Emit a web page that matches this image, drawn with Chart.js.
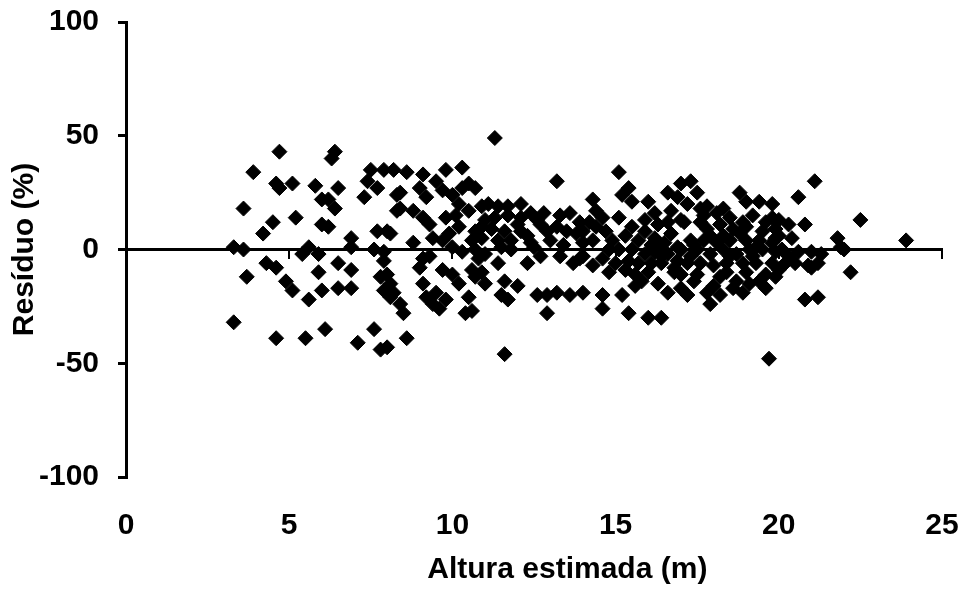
<!DOCTYPE html>
<html>
<head>
<meta charset="utf-8">
<script src="https://cdn.jsdelivr.net/npm/chart.js@4/dist/chart.umd.min.js"></script>
<style>
  html, body { margin: 0; padding: 0; background: #fff; }
  #wrap { width: 966px; height: 591px; position: relative; }
</style>
</head>
<body>
<div id="wrap"><canvas id="residuos"></canvas></div>
<script>
// residuals vs estimated height
var alturaEstimada = [
    4.7, 6.4, 6.3, 3.9, 4.6, 4.7, 5.1, 5.8, 6.5, 6.0, 6.2, 6.4, 7.3, 7.5, 7.9, 8.2, 7.4, 7.7, 8.3, 3.6,
    4.5, 4.2, 5.2, 6.0, 6.2, 6.9, 7.7, 8.0, 8.1, 8.3, 3.3, 3.6, 5.6, 5.4, 5.9, 6.9, 7.6, 7.9, 4.3, 4.6,
    5.9, 6.5, 6.9, 3.7, 4.9, 5.1, 5.6, 6.0, 6.5, 6.9, 7.8, 7.9, 8.1, 3.3, 4.6, 5.5, 6.1, 7.1, 7.6, 7.8,
    8.0, 7.9, 8.0, 8.1, 8.2,
    8.6, 9.1, 9.8, 10.3, 8.4, 9.0, 9.2, 9.7, 10.0, 10.3, 10.5, 10.7, 8.4, 8.8, 9.1, 9.3, 9.8, 10.1, 10.5, 8.8,
    9.4, 9.7, 9.9, 10.2, 10.6, 10.7, 10.0, 10.3, 10.7, 9.1, 9.3, 9.7, 9.0, 10.0, 10.2, 10.6, 10.7, 9.1, 9.2, 9.5,
    9.4, 9.8, 9.6, 8.4, 8.5, 10.5, 10.4, 10.6, 8.6, 10.2, 9.5, 10.8,
    11.3, 13.2, 10.9, 11.1, 11.4, 11.7, 12.4, 12.6, 13.3, 13.6, 11.0, 11.3, 11.7, 12.1, 12.3, 12.7, 12.9, 13.2, 13.5, 13.8,
    10.9, 11.4, 11.8, 12.1, 12.5, 11.0, 11.8, 12.7, 13.3, 13.7, 10.9, 11.0, 11.6, 12.0, 11.7, 11.5, 12.6, 12.9, 13.2, 13.6,
    12.9, 11.6, 11.2, 12.0, 11.5, 10.9, 11.6, 12.4, 11.4, 12.3, 13.0, 13.9, 13.9, 13.4, 12.8, 12.1,
    15.1, 15.4, 15.2, 15.5, 16.0, 14.3, 14.4, 14.6, 15.1, 16.6, 16.9, 15.9, 16.3, 14.0, 14.7, 14.3, 14.0, 14.9, 15.3, 15.7,
    16.2, 16.7, 16.5, 15.1, 15.5, 15.9, 16.2, 16.6, 15.4, 15.7, 16.1, 16.4, 16.9, 14.3, 15.3, 14.0, 14.6, 15.6, 14.0, 14.6,
    15.2, 14.6, 15.4, 16.0, 16.4, 16.6, 16.3, 15.6, 16.8, 15.9, 16.6, 16.0, 16.8, 16.4, 15.0, 14.8, 14.4, 16.9, 16.1,
    14.2, 14.8, 15.5, 16.2, 16.7, 15.8, 16.3,
    17.3, 17.0, 17.5, 18.8, 19.0, 19.4, 19.8, 17.2, 17.8, 18.1, 18.5, 19.2, 19.8, 17.0, 17.6, 17.1, 17.4, 17.8, 18.2, 18.6,
    19.0, 19.5, 19.9, 17.3, 17.7, 18.1, 18.5, 19.0, 19.4, 19.8, 17.0, 17.5, 17.9, 18.3, 18.7, 19.1, 19.5, 19.9, 17.2, 17.6,
    18.0, 18.4, 18.9, 19.3, 19.8, 17.0, 17.5, 18.2, 18.7, 19.1, 19.6, 17.0, 18.6, 17.9, 19.7,
    17.7, 18.3, 18.9, 19.6, 17.4, 18.0, 18.4, 19.0, 19.6, 17.9, 18.8, 19.3, 18.5, 17.3, 19.9, 17.6, 18.3, 19.2,
    17.2, 17.8, 18.2, 18.9, 19.4, 19.9,
    21.1, 20.6, 22.5, 20.0, 20.3, 20.8, 20.4, 21.8, 21.9, 20.1, 20.6, 21.0, 21.3, 20.2, 20.5, 20.9, 22.2, 20.8, 21.2, 21.2,
    21.0, 22.0, 20.3, 20.0, 20.0, 23.9
];
var residuo = [
    43, 43, 40, 34, 29, 27, 29, 28, 27, 22, 22, 18, 23, 35, 35, 35, 30, 27, 24, 18,
    12, 7, 14, 11, 10, 5, 8, 8, 7, 17, 1, 0, 1, -2, -2, 1, 0, -1, -6, -8,
    -10, -6, -9, -12, -14, -18, -22, -18, -17, -17, -12, -18, -21, -32, -39, -39, -35, -41, -35, -44,
    -43, -5, -11, -15, -19,
    34, 33, 35, 36, 25, 27, 23, 26, 24, 27, 29, 27, 18, 17, 14, 11, 14, 15, 17, 3,
    5, 4, 7, 10, 4, 8, 1, -1, 0, -4, -3, -9, -8, -11, -15, -9, -12, -15, -21, -19,
    -24, -22, -26, -24, -28, -21, -28, -27, -39, 20, 30, -4,
    49, 30, 19, 20, 19, 19, 16, 13, 15, 16, 13, 14, 15, 14, 6, 11, 8, 10, 8, 7,
    5, 4, 4, 8, 1, -2, 0, -3, -3, -6, -10, -15, -14, -16, -22, -20, -20, -20, -19, -20,
    -28, -46, 9, 11, 1, 10, 8, 3, -6, -6, 4, 12, -4, 2, 16, 20,
    34, 27, 24, 21, 21, 22, 17, 14, 14, 25, 23, 13, 11, 8, 8, 4, 3, 4, 6, 4,
    5, 7, 3, 0, 0, -2, -1, -2, -5, -6, -6, -6, -5, -7, -9, -3, -4, -16, -19, -20,
    -20, -26, -28, -30, -30, -19, 2, -11, -10, 8, 12, -10, -8, -3, -6, 0, 10, 1, 2,
    12, -10, 10, 16, 17, -14, -15,
    30, 29, 25, 25, 21, 21, 20, 20, 19, 16, 14, 15, 14, 13, 12, 12, 2, 9, 11, 9,
    10, 8, 9, 4, 4, 3, 4, 4, 4, 3, 0, 0, -2, 0, -2, 0, 0, -1, -6, -6,
    -7, -6, -6, -6, -6, -11, -11, -12, -14, -15, -17, -17, -17, -24, -48,
    15, 18, 12, 12, -14, -16, -10, -10, -11, 6, 7, 1, -3, -3, -12, 18, 6, -3,
    -20, -19, -20, -19, -14, 5,
    30, 23, 13, 13, 11, 11, 5, 5, 1, 0, -1, -1, -2, -6, -6, -7, -10, -22, -21, -6,
    -8, 0, -3, 6, -9, 4
];
var xTicks = [0, 5, 10, 15, 20, 25];
var yTicks = [-100, -50, 0, 50, 100];

var pontos = alturaEstimada.map(function (x, i) { return { x: x, y: residuo[i] }; });
var fonte = { family: '"Liberation Sans", Arial, sans-serif', size: 30, weight: 'bold' };

function fixTicks(values) {
    return function (s) { s.ticks = values.map(function (v) { return { value: v }; }); };
}

new Chart(document.getElementById('residuos'), {
    type: 'scatter',
    data: {
        datasets: [{
            data: pontos,
            pointStyle: 'rectRot',
            pointRadius: 7.5,
            pointBackgroundColor: '#000',
            pointBorderColor: '#000',
            pointBorderWidth: 1,
            xAxisID: 'x',
            yAxisID: 'y'
        }]
    },
    options: {
        responsive: true,
        maintainAspectRatio: false,
        animation: false,
        layout: { padding: { left: 0, right: 24, top: 22, bottom: 0 } },
        plugins: { legend: { display: false }, tooltip: { enabled: false } },
        scales: {
            x: {
                type: 'linear',
                position: 'bottom',
                min: xTicks[0], max: xTicks[xTicks.length - 1],
                afterBuildTicks: fixTicks(xTicks),
                grid: { display: false, drawTicks: false },
                border: { display: false },
                ticks: { color: '#000', font: fonte, padding: 31, maxRotation: 0 },
                // Excel put the title a bit right of the plot centre
                title: { display: true, text: '\u00a0\u00a0\u00a0\u00a0\u00a0\u00a0\u00a0\u00a0Altura estimada (m)', color: '#000', font: fonte, padding: { top: 0, bottom: 3 } },
                afterFit: function (s) { s.height = 114; s.paddingLeft = 0; s.paddingRight = 0; }
            },
            x2: {
                type: 'linear',
                axis: 'x',
                position: { y: 0 },
                min: xTicks[0], max: xTicks[xTicks.length - 1],
                afterBuildTicks: fixTicks(xTicks),
                grid: { drawOnChartArea: false, drawTicks: true, tickLength: 8, color: '#000', lineWidth: 2 },
                border: { display: true, color: '#000', width: 3 },
                ticks: { display: false }
            },
            y: {
                type: 'linear',
                min: yTicks[0], max: yTicks[yTicks.length - 1],
                afterBuildTicks: fixTicks(yTicks),
                grid: { drawOnChartArea: false, drawTicks: true, tickLength: 8, color: '#000', lineWidth: 3 },
                border: { display: true, color: '#000', width: 3 },
                ticks: { color: '#000', font: fonte, padding: 19 },
                title: { display: true, text: 'Resíduo (%)', color: '#000', font: fonte, padding: { top: 7, bottom: 0 } },
                afterFit: function (s) { s.width = 126; s.paddingTop = 0; s.paddingBottom = 0; }
            }
        }
    }
});
</script>
</body>
</html>
